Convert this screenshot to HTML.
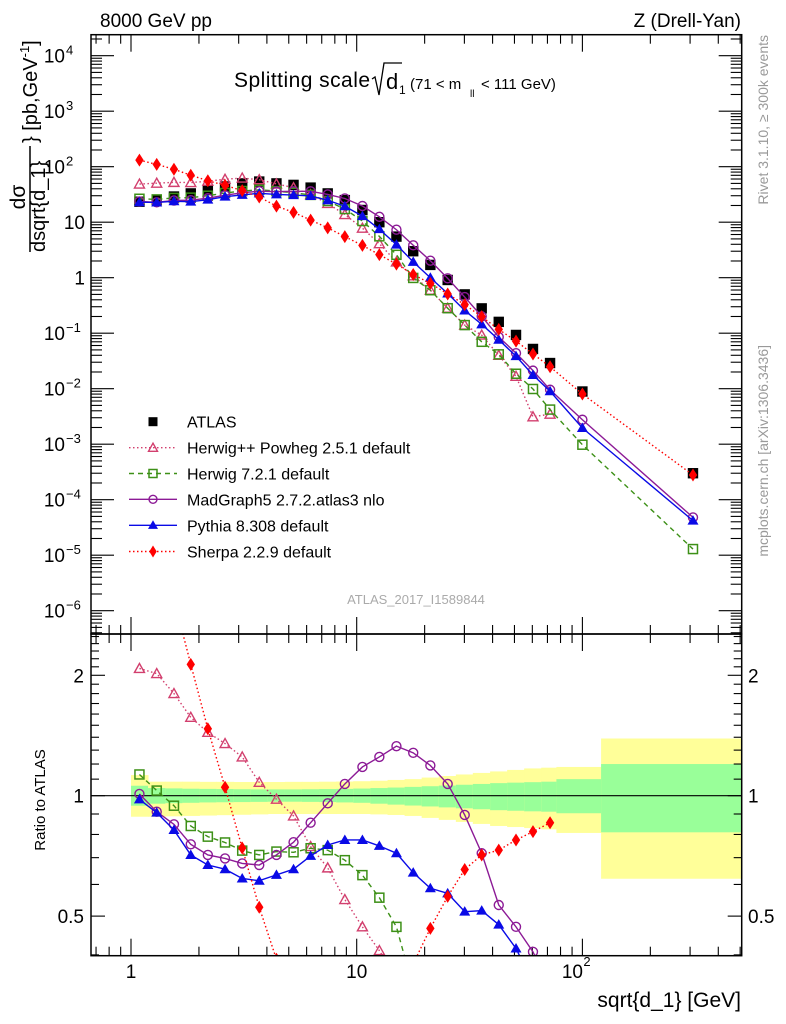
<!DOCTYPE html>
<html><head><meta charset="utf-8"><style>
html,body{margin:0;background:#fff;width:786px;height:1024px;overflow:hidden}
svg{display:block;font-family:"Liberation Sans",sans-serif}
</style></head><body>
<svg id="c" width="786" height="1024" viewBox="0 0 786 1024" xmlns="http://www.w3.org/2000/svg">
<defs>
<clipPath id="cu"><rect x="91" y="34.7" width="650.7" height="599.3"/></clipPath>
<clipPath id="cl"><rect x="91" y="634" width="650.7" height="321.7"/></clipPath>
</defs>
<g id="bands" clip-path="url(#cl)"></g>
<line x1="91" x2="741.7" y1="795.7" y2="795.7" stroke="#000" stroke-width="1.2"/>
<g id="ticks"></g>
<g id="upper" clip-path="url(#cu)"></g>
<g id="lower" clip-path="url(#cl)"></g>
<rect x="91" y="34.7" width="650.7" height="599.3" fill="none" stroke="#000" stroke-width="1.5"/>
<rect x="91" y="634" width="650.7" height="321.7" fill="none" stroke="#000" stroke-width="1.5"/>
<text x="100" y="27" font-size="19">8000 GeV pp</text>
<text x="741" y="27" font-size="19" text-anchor="end">Z (Drell-Yan)</text>
<g>
<text x="234" y="87" font-size="21" textLength="136">Splitting scale</text>
<path d="M372,79 L375,77 L379,95 L384,63 L402,63" fill="none" stroke="#000" stroke-width="1.3"/>
<text x="386" y="89" font-size="22">d</text><text x="399" y="94" font-size="12">1</text>
<text x="410" y="89" font-size="15">(71 &lt; m</text><text x="470" y="97" font-size="10">ll</text><text x="481" y="89" font-size="15">&lt; 111 GeV)</text>
</g>
<g transform="rotate(-90)">
<text x="-197" y="25" font-size="21" text-anchor="middle">dσ</text>
<line x1="-252" x2="-146" y1="30" y2="30" stroke="#000" stroke-width="1.5"/>
<text x="-252" y="45" font-size="20">dsqrt{d_1}</text>
<text x="-143" y="37" font-size="20">} [pb,GeV<tspan font-size="13" dy="-8">-1</tspan><tspan dy="8">]</tspan></text>
</g>
<text transform="rotate(-90)" x="-800" y="45" font-size="15" text-anchor="middle">Ratio to ATLAS</text>
<text transform="rotate(-90)" x="-35" y="768" font-size="14" fill="#999" text-anchor="end">Rivet 3.1.10, ≥ 300k events</text>
<text transform="rotate(-90)" x="-345" y="768" font-size="14" fill="#999" text-anchor="end">mcplots.cern.ch [arXiv:1306.3436]</text>
<text x="416" y="604" font-size="13" fill="#aaa" text-anchor="middle">ATLAS_2017_I1589844</text>
<text x="741" y="1007" font-size="21" text-anchor="end">sqrt{d_1} [GeV]</text>
<g id="legend"></g>
</svg>
<script>
const xVals=[1.09,1.30,1.55,1.84,2.19,2.61,3.11,3.70,4.41,5.25,6.25,7.44,8.86,10.6,12.6,15.0,17.8,21.2,25.3,30.1,35.8,42.6,50.8,60.4,71.9,100,309];
const binEdges=[1,1.19,1.42,1.69,2.01,2.39,2.85,3.39,4.04,4.81,5.72,6.81,8.11,9.65,11.5,13.7,16.3,19.4,23.1,27.5,32.7,39.0,46.4,55.2,65.7,76.7,121,508];
const atlas=[23.4,25,29,33,38,44,50,54,50,47,42,33,25,16.6,10,5.5,3.0,1.7,0.91,0.50,0.28,0.16,0.093,0.052,0.029,0.0089,0.0003];
const herwigpp=[2.08,2.02,1.80,1.57,1.44,1.35,1.25,1.08,0.98,0.89,0.746,0.66,0.55,0.47,0.41,0.35,0.36,0.35,0.31,0.28,0.33,0.25,0.18,0.06,0.12,null,null];
const herwig7=[1.13,1.03,0.944,0.84,0.79,0.764,0.729,0.711,0.725,0.722,0.739,0.731,0.69,0.633,0.556,0.47,0.33,0.35,0.31,0.28,0.25,0.26,0.2,0.19,0.145,0.11,0.043];
const madgraph=[1.01,0.912,0.848,0.756,0.711,0.697,0.677,0.671,0.711,0.765,0.856,0.957,1.07,1.18,1.25,1.33,1.28,1.19,1.07,0.895,0.718,0.533,0.47,0.407,0.33,0.31,0.16];
const pythia=[0.979,0.907,0.821,0.711,0.671,0.655,0.621,0.613,0.634,0.655,0.707,0.753,0.775,0.775,0.749,0.718,0.642,0.587,0.570,0.513,0.516,0.476,0.415,0.34,0.31,0.22,0.14];
const sherpa=[5.6,4.4,3.1,2.13,1.47,1.05,0.74,0.526,0.39,0.32,0.26,0.24,0.22,0.23,0.26,0.32,0.38,0.466,0.56,0.654,0.711,0.731,0.775,0.813,0.856,0.9,0.93];
const yelUp=[1.126,1.084,1.084,1.084,1.083,1.083,1.082,1.082,1.082,1.083,1.083,1.084,1.085,1.087,1.09,1.095,1.10,1.11,1.12,1.13,1.14,1.15,1.16,1.17,1.175,1.18,1.39];
const yelDn=[0.886,0.886,0.888,0.89,0.892,0.894,0.896,0.898,0.9,0.9,0.9,0.9,0.9,0.9,0.898,0.895,0.89,0.88,0.87,0.86,0.85,0.84,0.835,0.83,0.824,0.807,0.62];
const grnUp=[1.059,1.045,1.043,1.041,1.04,1.039,1.038,1.037,1.037,1.037,1.038,1.039,1.04,1.042,1.045,1.048,1.052,1.056,1.06,1.065,1.07,1.075,1.078,1.081,1.084,1.10,1.2];
const grnDn=[0.944,0.955,0.958,0.96,0.962,0.963,0.964,0.965,0.966,0.966,0.965,0.964,0.962,0.96,0.955,0.95,0.945,0.94,0.935,0.93,0.925,0.92,0.917,0.914,0.912,0.904,0.81];
const ratioMaxIndex=24;

const NS="http://www.w3.org/2000/svg";
const L=Math.log10;
const xS=v=>131+225.7*L(v);
const yU=v=>277.7-55.5*L(v);
const yR=r=>795.7-400*L(r);
function mk(tag,attrs,parent){const e=document.createElementNS(NS,tag);for(const k in attrs)e.setAttribute(k,attrs[k]);parent.appendChild(e);return e;}
const bands=document.getElementById('bands'),ticks=document.getElementById('ticks'),up=document.getElementById('upper'),lo=document.getElementById('lower'),leg=document.getElementById('legend');

for(let i=0;i<xVals.length;i++){
  const x0=xS(binEdges[i]),x1=xS(binEdges[i+1]);
  const r1=mk('rect',{x:x0,y:yR(yelUp[i]),width:x1-x0+0.5,height:yR(yelDn[i])-yR(yelUp[i]),fill:'#ffff99'},bands);
  
  
  const r2=mk('rect',{x:x0,y:yR(grnUp[i]),width:x1-x0+0.5,height:yR(grnDn[i])-yR(grnUp[i]),fill:'#99ff99'},bands);
  
  
}
function tick(x1,y1,x2,y2){mk('line',{x1:x1,y1:y1,x2:x2,y2:y2,stroke:'#000','stroke-width':1.1},ticks);}
for(let d=-1;d<=2;d++)for(let m=1;m<10;m++){const v=m*Math.pow(10,d);const x=xS(v);if(x<91||x>741.7)continue;const len=m==1?17:9;
  tick(x,34.7,x,34.7+len);tick(x,634,x,634-len);tick(x,634,x,634+len);tick(x,955.7,x,955.7-len);}
for(let d=-7;d<=4;d++)for(let m=1;m<10;m++){const v=m*Math.pow(10,d);const y=yU(v);if(y<34.7||y>634)continue;const len=m==1?23:11;
  tick(91,y,91+len,y);tick(741.7,y,741.7-len,y);}
const rT=[0.4,0.5,0.6,0.7,0.8,0.9,1,1.1,1.2,1.3,1.4,1.5,1.6,1.7,1.8,1.9,2,2.1,2.2,2.3,2.4,2.5];
rT.forEach(r=>{const y=yR(r);const len=(r==0.5||r==1||r==2)?14:8;tick(91,y,91+len,y);tick(741.7,y,741.7-len,y);});
const upLabels=[[4,'10','4'],[3,'10','3'],[2,'10','2'],[1,'10',''],[0,'1',''],[-1,'10','−1'],[-2,'10','−2'],[-3,'10','−3'],[-4,'10','−4'],[-5,'10','−5'],[-6,'10','−6']];
upLabels.forEach(([e,b,s])=>{const y=yU(Math.pow(10,e));
  const t=mk('text',{x:s?65:85,y:y+7,'font-size':19,'text-anchor':'end'},ticks);t.textContent=b;
  
  
  if(s){const t2=mk('text',{x:66,y:y-1,'font-size':13},ticks);t2.textContent=s;
  
  }});
[[2,'2'],[1,'1'],[0.5,'0.5']].forEach(([r,s])=>{const y=yR(r);
  const a=mk('text',{x:84,y:y+7,'font-size':19,'text-anchor':'end'},ticks);a.textContent=s;
  
  
  const b=mk('text',{x:748,y:y+7,'font-size':19},ticks);b.textContent=s;
  
  });
[[1,'1',''],[10,'10',''],[100,'10','2']].forEach(([v,s,e])=>{const x=xS(v);
  const t=mk('text',{x:e?x-10:x,y:978,'font-size':19,'text-anchor':'middle'},ticks);t.textContent=s;
  
  
  if(e){const t2=mk('text',{x:x+1,y:966,'font-size':13},ticks);t2.textContent=e;
  
  }});

function marker(type,cx,cy,col,parent,s){
  s=s||5;let e;
  if(type=='sq')e=mk('rect',{x:cx-s,y:cy-s,width:2*s,height:2*s,fill:'#000'},parent);
  else if(type=='osq')e=mk('rect',{x:cx-s+0.5,y:cy-s+0.5,width:2*s-1,height:2*s-1,fill:'none',stroke:col,'stroke-width':1.5},parent);
  else if(type=='otri')e=mk('polygon',{points:`${cx},${cy-s} ${cx-s},${cy+s*0.8} ${cx+s},${cy+s*0.8}`,fill:'none',stroke:col,'stroke-width':1.4},parent);
  else if(type=='tri')e=mk('polygon',{points:`${cx},${cy-s-0.5} ${cx-s-0.5},${cy+s*0.8} ${cx+s+0.5},${cy+s*0.8}`,fill:col},parent);
  else if(type=='ocirc')e=mk('circle',{cx:cx,cy:cy,r:s-0.5,fill:'none',stroke:col,'stroke-width':1.4},parent);
  else if(type=='dia')e=mk('polygon',{points:`${cx},${cy-s-1.5} ${cx-s+0.8},${cy} ${cx},${cy+s+1.5} ${cx+s-0.8},${cy}`,fill:col},parent);
  return e;
}
const series=[
 {name:'herwigpp',label:'Herwig++ Powheg 2.5.1 default',vals:herwigpp,col:'#d23f6e',m:'otri',dash:'1.5,2.5'},
 {name:'herwig7',label:'Herwig 7.2.1 default',vals:herwig7,col:'#3d9017',m:'osq',dash:'5,4'},
 {name:'madgraph',label:'MadGraph5 2.7.2.atlas3 nlo',vals:madgraph,col:'#8c1a96',m:'ocirc',dash:''},
 {name:'pythia',label:'Pythia 8.308 default',vals:pythia,col:'#0a0ae6',m:'tri',dash:''},
 {name:'sherpa',label:'Sherpa 2.2.9 default',vals:sherpa,col:'#ff0000',m:'dia',dash:'1.5,2.5'}];

atlas.forEach((v,i)=>{const e=marker('sq',xS(xVals[i]),yU(v),'#000',up,5.2);
  
  });
series.forEach(s=>{
  const ptsU=[],ptsL=[];
  s.vals.forEach((r,i)=>{if(r==null)return;ptsU.push([xS(xVals[i]),yU(r*atlas[i])]);if(i<=ratioMaxIndex)ptsL.push([xS(xVals[i]),yR(r)]);});
  [[ptsU,up,'-line'],[ptsL,lo,'-ratio-line']].forEach(([pts,par,suf])=>{
    const p=mk('polyline',{points:pts.map(q=>q.join(',')).join(' '),fill:'none',stroke:s.col,'stroke-width':1.4,'stroke-dasharray':s.dash||'none'},par);
    
    
    pts.forEach(q=>{const e=marker(s.m,q[0],q[1],s.col,par,5);
      
      });
  });
});
const ly=[421.7,447.7,473.5,499.3,525.3,551.5];
marker('sq',153,ly[0],'#000',leg,4.5);
const lt0=mk('text',{x:187,y:ly[0]+6,'font-size':16},leg);lt0.textContent='ATLAS';


series.forEach((s,i)=>{const y=ly[i+1];
  mk('line',{x1:129,x2:177,y1:y,y2:y,stroke:s.col,'stroke-width':1.4,'stroke-dasharray':s.dash||'none'},leg);
  marker(s.m,153,y,s.col,leg,4.5);
  const t=mk('text',{x:187,y:y+6,'font-size':16},leg);t.textContent=s.label;
  
  });
</script>
</body></html>
